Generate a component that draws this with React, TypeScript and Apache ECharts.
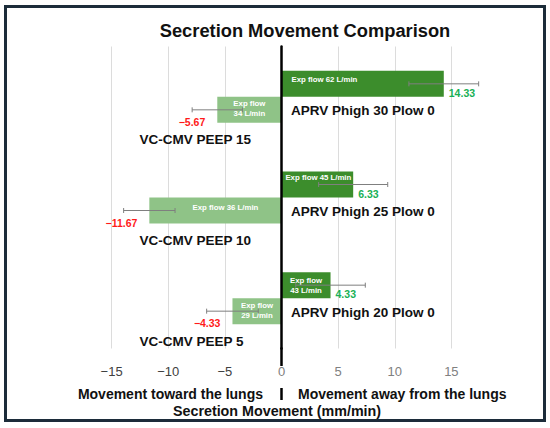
import React, { useEffect, useRef } from "react";
import * as echarts from "echarts";

// ---- data ----
const categories = ["30 / 15", "25 / 10", "20 / 5"];
const aprvLabels = ["APRV Phigh 30 Plow 0", "APRV Phigh 25 Plow 0", "APRV Phigh 20 Plow 0"];
const vcLabels = ["VC-CMV PEEP 15", "VC-CMV PEEP 10", "VC-CMV PEEP 5"];
const aprvValues = [14.33, 6.33, 4.33];
const vcValues = [-5.67, -11.67, -4.33];
const aprvErrors = [3.08, 3.05, 3.07];
const vcErrors = [2.22, 2.27, 2.28];
const aprvFlows = [62, 45, 43];
const vcFlows = [34, 36, 29];
const xTicks = [-15, -10, -5, 0, 5, 10, 15];

// ---- layout / style ----
const FONT = "'Liberation Sans', Arial, sans-serif";
const BAR_W = 26;
const GRID = { left: 55, right: 42, top: 46.5, bottom: 79.5 };
const DARK_GREEN = "#3c8d2c";
const LIGHT_GREEN = "#8fc387";

const aprvFlowLayout = [
  { position: "insideLeft", align: "left", offset: [5, -4], twoLines: false },
  { position: "inside", align: "center", offset: [1, -7], twoLines: false },
  { position: "inside", align: "center", offset: [0, 0], twoLines: true },
];
const vcFlowLayout = [
  { position: "inside", align: "center", offset: [0, -1], twoLines: true },
  { position: "inside", align: "center", offset: [10, -3.5], twoLines: false },
  { position: "inside", align: "center", offset: [0, -0.5], twoLines: true },
];

const fmtNum = (v: number) => (v < 0 ? "\u2212" + Math.abs(v).toFixed(2) : v.toFixed(2));
const fmtTick = (v: number) => (v < 0 ? "\u2212" + Math.abs(v) : String(v));

function barData(values: number[], flows: number[], layout: any[]) {
  return values.map((v, i) => ({
    value: v,
    label: {
      show: true,
      position: layout[i].position,
      align: layout[i].align,
      offset: layout[i].offset,
      formatter: layout[i].twoLines
        ? `Exp flow\n${flows[i]} L/min`
        : `Exp flow ${flows[i]} L/min`,
    },
  }));
}

function errorSeries(values: number[], errors: number[], side: number, isPos: boolean, color: string) {
  return {
    type: "custom",
    clip: false,
    z: 6,
    encode: { x: 1, y: 0 },
    data: values.map((v, i) => [i, v, errors[i]]),
    renderItem: (_p: any, api: any) => {
      const cat = api.value(0);
      const v = api.value(1);
      const e = api.value(2);
      const c = api.coord([v, cat]);
      const y = c[1] + (side * BAR_W) / 2;
      const lo = api.coord([v - e, cat])[0];
      const hi = api.coord([v + e, cat])[0];
      const cap = 2.5;
      const ls = { stroke: "#7f7f7f", lineWidth: 1 };
      return {
        type: "group",
        children: [
          { type: "line", shape: { x1: lo, y1: y, x2: hi, y2: y }, style: ls },
          { type: "line", shape: { x1: lo, y1: y - cap, x2: lo, y2: y + cap }, style: ls },
          { type: "line", shape: { x1: hi, y1: y - cap, x2: hi, y2: y + cap }, style: ls },
          {
            type: "text",
            style: {
              text: fmtNum(v),
              x: isPos ? c[0] + 5 : c[0] - 12,
              y: y + (isPos ? 9 : 12),
              align: isPos ? "left" : "right",
              textAlign: isPos ? "left" : "right",
              verticalAlign: "middle",
              textVerticalAlign: "middle",
              fill: color,
              font: `bold 10.5px ${FONT}`,
            },
          },
        ],
      };
    },
  };
}

export default function App() {
  const ref = useRef<HTMLDivElement>(null);

  useEffect(() => {
    document.body.style.margin = "0";
    const chart = echarts.init(ref.current!, null, { renderer: "svg" });

    const barLabel = {
      color: "#fff",
      fontFamily: FONT,
      fontSize: 7.8,
      fontWeight: "bold",
      lineHeight: 9.8,
    };

    const option: any = {
      animation: false,
      backgroundColor: "#ffffff",
      title: {
        text: "Secretion Movement Comparison",
        left: 300,
        top: 25,
        textAlign: "center",
        textVerticalAlign: "middle",
        textStyle: { fontFamily: FONT, fontSize: 18.3, fontWeight: "bold", color: "#111" },
      },
      grid: { ...GRID, containLabel: false },
      xAxis: {
        type: "value",
        min: -20,
        max: 20,
        interval: 5,
        name: "Secretion Movement (mm/min)",
        nameLocation: "middle",
        nameGap: 55,
        nameTextStyle: {
          fontFamily: FONT,
          fontSize: 14.3,
          fontWeight: "bold",
          color: "#111",
          padding: [0, 9, 0, 0],
        },
        axisLine: { show: false },
        axisTick: { show: false },
        axisLabel: {
          margin: 16,
          fontFamily: FONT,
          fontSize: 13,
          showMinLabel: false,
          showMaxLabel: false,
          formatter: (v: number) => (xTicks.includes(Number(v)) ? fmtTick(Number(v)) : ""),
          color: (v: any) => (Number(v) < 0 ? "#404040" : "#808080"),
        },
        splitLine: {
          show: true,
          showMinLine: false,
          showMaxLine: false,
          lineStyle: { color: "#dcdcdc", width: 1 },
        },
      },
      yAxis: {
        type: "category",
        data: categories,
        inverse: true,
        z: 10,
        axisLine: { show: true, onZero: true, lineStyle: { color: "#000", width: 2.5 } },
        axisTick: { show: false },
        axisLabel: { show: false },
        splitLine: { show: false },
      },
      series: [
        {
          type: "bar",
          name: "APRV",
          data: barData(aprvValues, aprvFlows, aprvFlowLayout),
          barWidth: BAR_W,
          barGap: "0%",
          itemStyle: { color: DARK_GREEN },
          label: barLabel,
        },
        {
          type: "bar",
          name: "VC-CMV",
          data: barData(vcValues, vcFlows, vcFlowLayout),
          barWidth: BAR_W,
          barGap: "0%",
          itemStyle: { color: LIGHT_GREEN },
          label: barLabel,
        },
        errorSeries(aprvValues, aprvErrors, -1, true, "#18b055"),
        errorSeries(vcValues, vcErrors, 1, false, "#ff1a1a"),
        {
          type: "custom",
          clip: false,
          z: 7,
          encode: { x: 0, y: 1 },
          data: categories.map((_, i) => [0, i]),
          renderItem: (p: any, api: any) => {
            const i = p.dataIndex;
            const c = api.coord([0, api.value(1)]);
            const font = `bold 13.5px ${FONT}`;
            return {
              type: "group",
              children: [
                {
                  type: "text",
                  style: {
                    text: aprvLabels[i],
                    x: c[0] + 9.5,
                    y: c[1] + 14,
                    align: "left",
                    textAlign: "left",
                    verticalAlign: "middle",
                    textVerticalAlign: "middle",
                    fill: "#111",
                    font,
                  },
                },
                {
                  type: "text",
                  style: {
                    text: vcLabels[i],
                    x: c[0] - 142,
                    y: c[1] + 43,
                    align: "left",
                    textAlign: "left",
                    verticalAlign: "middle",
                    textVerticalAlign: "middle",
                    fill: "#111",
                    font,
                  },
                },
              ],
            };
          },
        },
      ],
    };

    chart.setOption(option);

    const zx = chart.convertToPixel({ xAxisIndex: 0 }, 0) as number;
    const gridBottom = 428 - GRID.bottom;
    const subFont = `bold 14px ${FONT}`;
    chart.setOption({
      graphic: [
        {
          type: "rect",
          z: 100,
          shape: { x: 5.5, y: 6.5, width: 539, height: 414 },
          style: { fill: "none", stroke: "#1c2c3a", lineWidth: 3 },
        },
        {
          type: "line",
          z: 100,
          shape: { x1: zx, y1: gridBottom - 1, x2: zx, y2: 366 },
          style: { stroke: "#000", lineWidth: 2.5 },
        },
        {
          type: "line",
          z: 100,
          shape: { x1: zx, y1: 388, x2: zx, y2: 400 },
          style: { stroke: "#000", lineWidth: 2.5 },
        },
        {
          type: "text",
          z: 100,
          style: {
            text: "Movement toward the lungs",
            x: zx - 18.5,
            y: 393.5,
            textAlign: "right",
            textVerticalAlign: "middle",
            font: subFont,
            fill: "#111",
          },
        },
        {
          type: "text",
          z: 100,
          style: {
            text: "Movement away from the lungs",
            x: zx + 16.5,
            y: 393.5,
            textAlign: "left",
            textVerticalAlign: "middle",
            font: subFont,
            fill: "#111",
          },
        },
      ],
    });

    return () => chart.dispose();
  }, []);

  return <div ref={ref} style={{ width: 550, height: 428 }} />;
}
